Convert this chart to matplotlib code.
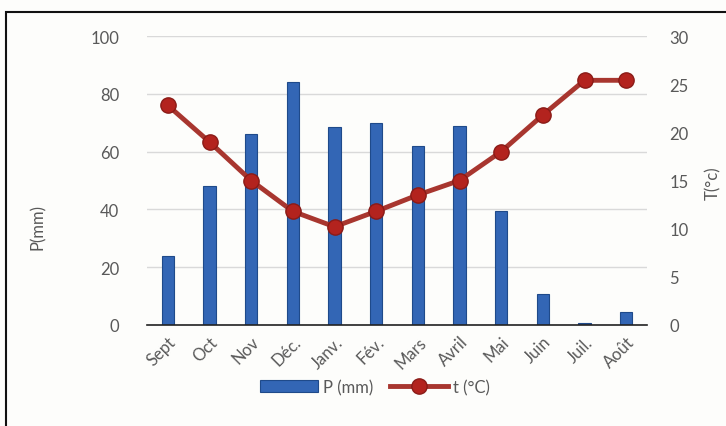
import matplotlib
matplotlib.use("Agg")
import matplotlib.pyplot as plt
from matplotlib.patches import Rectangle
import numpy as np

months = ["Sept", "Oct", "Nov", "Déc.", "Janv.", "Fév.", "Mars", "Avril", "Mai", "Juin", "Juil.", "Août"]
precip_mm = [24, 48, 66, 84, 68.5, 70, 62, 69, 39.5, 10.7, 0.7, 4.5]
temp_c = [22.8, 19.0, 15.0, 11.8, 10.2, 11.8, 13.5, 15.0, 18.0, 21.8, 25.4, 25.4]

plt.rcParams['font.family'] = ['Lato', 'DejaVu Sans']
grey = "#595959"
bg = "#fdfdfb"

fig = plt.figure(figsize=(7.26, 4.27), dpi=100, facecolor=bg)
ax = fig.add_axes([147/726, 1-326/427, 500/726, 289/427])
ax.set_facecolor(bg)

x = np.arange(len(months))
ax.bar(x, precip_mm, width=0.3, color="#3366b5", edgecolor="#1f4a8a", linewidth=0.8,
       label="P (mm)", zorder=2)
ax.set_xlim(-0.5, len(months) - 0.5)
ax.set_ylim(0, 100)
ax.set_yticks(range(0, 101, 20))
ax.grid(axis="y", color="#d9d9d9", linewidth=1, zorder=0)
ax.set_axisbelow(True)
for s in ["top", "right", "left"]:
    ax.spines[s].set_visible(False)
ax.spines["bottom"].set_color("#222222")
ax.spines["bottom"].set_linewidth(1.2)
ax.tick_params(axis="both", length=0, colors=grey, labelsize=12)
ax.tick_params(axis="y", pad=20)
ax.set_xticks(x)
ax.set_xticklabels(months, rotation=45, ha="right", rotation_mode="anchor")
ax.tick_params(axis="x", pad=6)

ax2 = ax.twinx()
ax2.plot(x, temp_c, color="#a8362f", linewidth=3.5, marker="o", markersize=11,
         markerfacecolor="#b3231e", markeredgecolor="#8a1b17", label="t (°C)", zorder=3)
ax2.set_ylim(0, 30)
ax2.set_yticks(range(0, 31, 5))
for s in ["top", "right", "left", "bottom"]:
    ax2.spines[s].set_visible(False)
ax2.tick_params(axis="y", length=0, colors=grey, labelsize=12, pad=16)

# axis titles placed in figure coordinates
fig.text(38/726, 1-227/427, "P(mm)", rotation=90, ha="center", va="center",
         color=grey, fontsize=12)
fig.text(713/726, 1-183/427, "T(°c)", rotation=90, ha="center", va="center",
         color=grey, fontsize=12)

h1, l1 = ax.get_legend_handles_labels()
h2, l2 = ax2.get_legend_handles_labels()
fig.legend(h1 + h2, l1 + l2, loc="center", bbox_to_anchor=(375/726, 1-388/427), ncol=2,
           frameon=False, fontsize=12, labelcolor=grey, handlelength=3.5,
           columnspacing=1.0, handletextpad=0.3)

fig.patches.append(Rectangle((6/726, -0.1), 1.0, 1-13/427+0.1, transform=fig.transFigure,
                             fill=False, edgecolor="#111111", linewidth=1.5))

fig.savefig("out.png", dpi=100, facecolor=bg)
